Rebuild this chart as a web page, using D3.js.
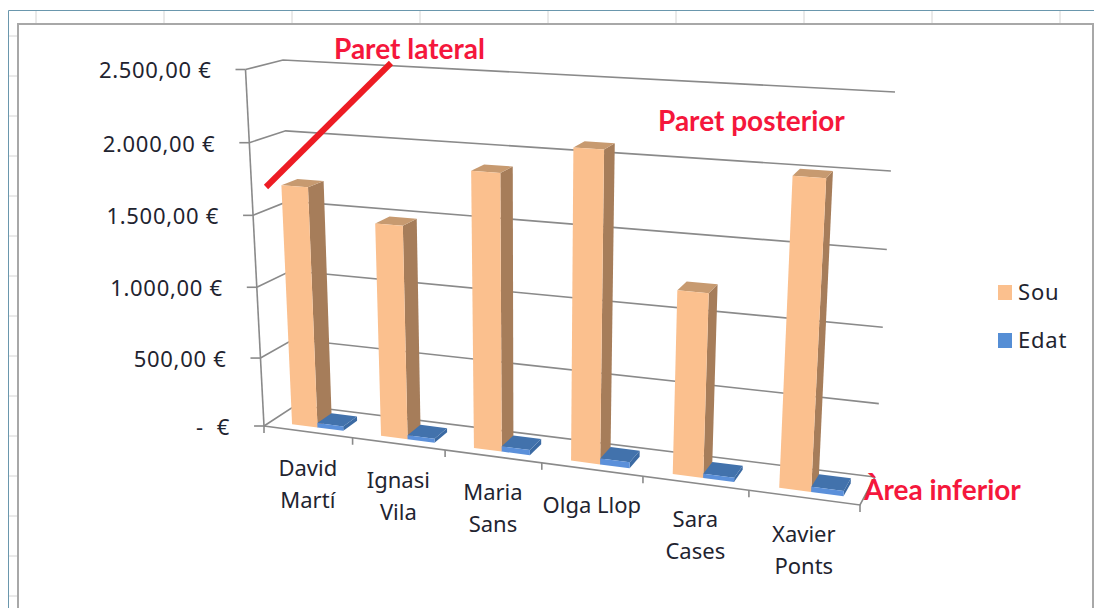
<!DOCTYPE html>
<html>
<head>
<meta charset="utf-8">
<script src="https://cdn.jsdelivr.net/npm/d3@7"></script>
<style>
  body { margin: 0; background: #fff; }
  text { font-family: "Noto Sans", "Open Sans", sans-serif; fill: #1f2430; white-space: pre; }
</style>
</head>
<body>
<svg id="chart"></svg>
<script>
// 3D clustered columns from a spreadsheet screenshot, projected by hand onto the page

const svgWidth = 1094;
const svgHeight = 608;

const categories = ["David Martí", "Ignasi Vila", "Maria Sans", "Olga Llop", "Sara Cases", "Xavier Ponts"];
const seriesNames = ["Sou", "Edat"];
const sou = [1700, 1490, 1895, 2095, 1225, 2010];
const edat = [35, 32, 40, 45, 30, 38];
const yTicks = [0, 500, 1000, 1500, 2000, 2500];
const yTickLabels = ["-  €", "500,00 €", "1.000,00 €", "1.500,00 €", "2.000,00 €", "2.500,00 €"];

// corners of the plot box on screen
const box = {
    frontLeft: { floor: [264, 426], top: [245.5, 69.5] },
    backLeft: { floor: [296, 405], top: [283, 60] },
    frontRight: { floor: [860, 505], top: [883, 105] },
    backRight: { floor: [875, 477], top: [895, 92] }
};

const colors = {
    Sou: { front: "#fbc08e", side: "#a67d5a", top: "#c79a70" },
    Edat: { front: "#5b90da", side: "#3b6aa3", top: "#4272ac" }
};

const svg = d3.select("#chart").attr("width", svgWidth).attr("height", svgHeight);

const xCat = d3.scaleBand().domain(categories).range([0, 1]);
const xSeries = d3.scaleBand().domain(seriesNames).range([0, xCat.bandwidth()]).paddingOuter(0.72).align(0.58);
const yValue = d3.scalePow().exponent(1.03).domain([0, 2500]).range([0, 1]);

// things further right are nearer the viewer, so the steps get wider
const perspective = 0.873;
const warp = u => perspective * u / (1 + (perspective - 1) * u);

function project(u, depth, value) {
    const t = yValue(value);
    const s = warp(u);
    const edge = c => d3.interpolate(c.floor, c.top)(t);
    const front = d3.interpolate(edge(box.frontLeft), edge(box.frontRight))(s);
    const back = d3.interpolate(edge(box.backLeft), edge(box.backRight))(s);
    return d3.interpolate(front, back)(depth);
}

const lineGen = d3.line();

// spreadsheet behind the chart
const sheetColumns = d3.range(36, svgWidth, 128);
const sheetRows = d3.range(36, svgHeight, 40);
const sheet = svg.append("g");
sheet.selectAll(".col").data(sheetColumns).join("line")
    .attr("x1", d => d).attr("x2", d => d).attr("y1", 11).attr("y2", 24)
    .attr("stroke", "#d4d4d4");
sheet.selectAll(".row").data(sheetRows).join("line")
    .attr("x1", 9).attr("x2", 18).attr("y1", d => d).attr("y2", d => d)
    .attr("stroke", "#d4d4d4");
sheet.append("path").attr("d", "M8.5,608V10.5H1094").attr("fill", "none").attr("stroke", "#6a97ad");
sheet.append("path").attr("d", "M18,608V24H1093V608").attr("fill", "none").attr("stroke", "#a8a8a8").attr("stroke-width", 2);

// walls and floor
const gridColor = "#8a8a8a";
const grid = svg.append("g").attr("fill", "none").attr("stroke", gridColor).attr("stroke-width", 1.6);

grid.selectAll(".wall").data(yTicks).join("path")
    .attr("d", v => lineGen([project(0, 0, v), project(0, 1, v), project(1, 1, v)]));

grid.append("path").attr("d", lineGen([project(0, 0, 0), project(0, 0, 2500)]));
grid.append("path").attr("d", lineGen([project(0, 0, 0), project(1, 0, 0), project(1, 1, 0)]));

grid.selectAll(".ytick").data(yTicks).join("path")
    .attr("d", v => {
        const p = project(0, 0, v);
        return lineGen([[p[0] - 10, p[1]], p]);
    });

const xBoundaries = d3.range(categories.length + 1).map(i => i / categories.length);
grid.selectAll(".xtick").data(xBoundaries).join("path")
    .attr("d", u => {
        const p = project(u, 0, 0);
        return lineGen([p, [p[0], p[1] + 7]]);
    });

// columns, left to right, so nearer ones paint over
const depthFrom = 0.22;
const depthTo = 0.68;

function drawBar(g, category, name, value) {
    const u0 = xCat(category) + xSeries(name);
    const u1 = u0 + xSeries.bandwidth();
    const c = colors[name];
    const face = (pts, fill) => g.append("path").attr("d", lineGen(pts) + "Z").attr("fill", fill);

    face([project(u1, depthFrom, 0), project(u1, depthTo, 0), project(u1, depthTo, value), project(u1, depthFrom, value)], c.side);
    face([project(u0, depthFrom, value), project(u1, depthFrom, value), project(u1, depthTo, value), project(u0, depthTo, value)], c.top);
    face([project(u0, depthFrom, 0), project(u1, depthFrom, 0), project(u1, depthFrom, value), project(u0, depthFrom, value)], c.front);
}

const bars = svg.append("g");
categories.forEach((cat, i) => {
    drawBar(bars, cat, "Sou", sou[i]);
    drawBar(bars, cat, "Edat", edat[i]);
});

// axis labels
svg.append("g").selectAll("text").data(yTicks).join("text")
    .attr("x", v => project(0, 0, v)[0] - 34)
    .attr("y", v => project(0, 0, v)[1] + 3)
    .attr("text-anchor", "end")
    .attr("dominant-baseline", "middle")
    .attr("font-size", 22)
    .attr("letter-spacing", 0.7)
    .text((v, i) => yTickLabels[i]);

const catLabels = svg.append("g").selectAll("text").data(categories).join("text")
    .attr("text-anchor", "middle")
    .attr("font-size", 22);

catLabels.each(function (cat) {
    const u = xCat(cat) + xCat.bandwidth() / 2;
    const p = project(u, 0, 0);
    const words = cat === "Olga Llop" ? [cat] : cat.split(" ");
    d3.select(this).selectAll("tspan").data(words).join("tspan")
        .attr("x", p[0])
        .attr("y", (w, i) => p[1] + 44 + i * 32)
        .text(w => w);
});

// legend
const legend = svg.append("g");
seriesNames.forEach((name, i) => {
    const y = 292 + i * 48;
    legend.append("rect").attr("x", 998).attr("y", y - 7).attr("width", 14).attr("height", 15)
        .attr("fill", name === "Sou" ? colors.Sou.front : "#558ed5");
    legend.append("text").attr("x", 1018).attr("y", y + 8).attr("font-size", 22).attr("letter-spacing", 0.8).text(name);
});

// red notes pasted on top of the screenshot
const redText = "#f5173c";
const notes = [
    { label: "Paret lateral", x: 334, y: 59 },
    { label: "Paret posterior", x: 658, y: 131 },
    { label: "Àrea inferior", x: 864, y: 500 }
];
svg.append("g").selectAll("text").data(notes).join("text")
    .attr("x", d => d.x)
    .attr("y", d => d.y)
    .style("font-family", "Lato")
    .attr("font-size", 28)
    .attr("font-weight", 700)
    .style("fill", redText)
    .text(d => d.label);

svg.append("line")
    .attr("x1", 266).attr("y1", 187).attr("x2", 391).attr("y2", 63)
    .attr("stroke", "#ed1c24").attr("stroke-width", 6);
</script>
</body>
</html>
